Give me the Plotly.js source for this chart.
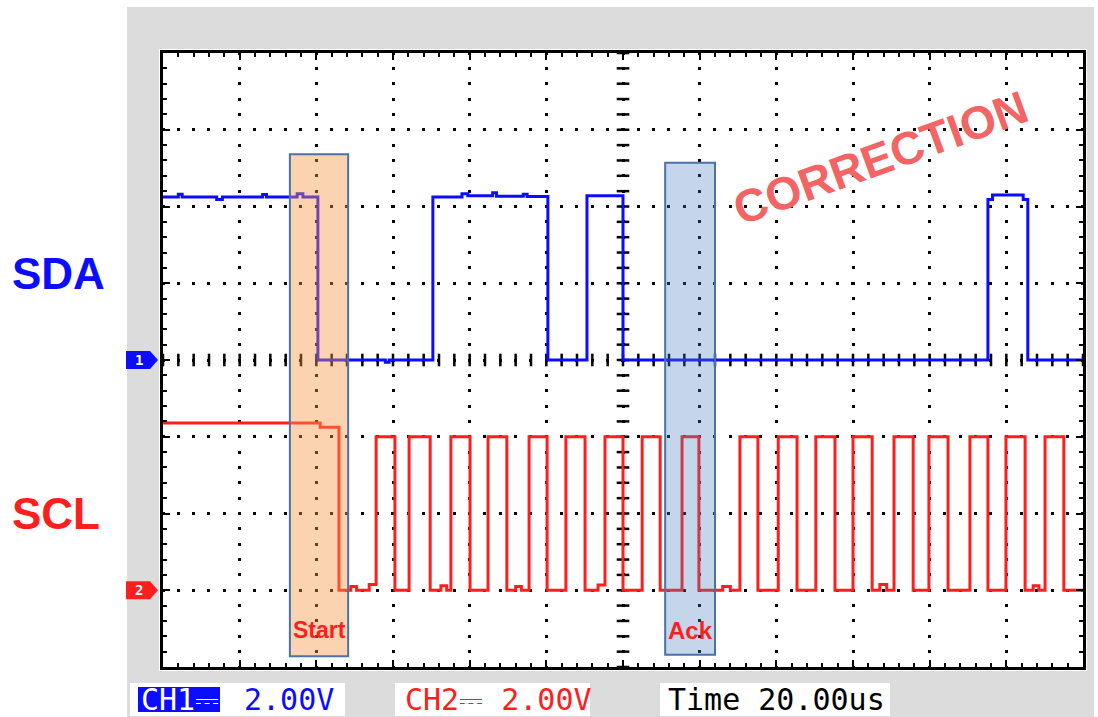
<!DOCTYPE html>
<html><head><meta charset="utf-8">
<script src="https://cdn.plot.ly/plotly-3.0.1.min.js"></script>
<style>html,body{margin:0;padding:0;background:#fff}#chart{width:1098px;height:717px}</style>
</head><body><div id="chart"></div>
<script>
// ---- data (time in microseconds, level in volts) ----
const sdaTime = [0, 4, 5, 14, 15.5, 26, 27, 35, 36.5, 40.4, 58, 59, 70.4, 78, 79.5, 86, 87, 94, 95, 100.4, 110.6, 120.0, 215.2, 216.4, 224.4, 225.6, 240];
const sdaVolt = [4.25, 4.32, 4.25, 4.18, 4.25, 4.31, 4.25, 4.33, 4.25, 0, -0.06, 0, 4.25, 4.33, 4.28, 4.36, 4.27, 4.32, 4.26, 0, 4.28, 0, 4.18, 4.3, 4.18, 0, 0];

const sclTime = [0, 41.0, 45.9, 49.0, 50.5, 53.8, 55.6, 60.5, 64.2, 69.7, 72.5, 74.0, 75.1, 80.1,
  84.8, 89.7, 92.0, 93.5, 95.5, 100.2, 105.1, 110.1, 113.5, 115.3, 120.0, 125.0, 129.7,
  135.4, 139.8, 146.0, 148.0, 150.5, 155.2, 160.5, 165.4, 170.3, 175.3, 180.0, 185.0,
  187.0, 188.8, 190.7, 195.7, 199.8, 204.8, 210.5, 215.2, 219.9, 224.9, 227.0, 228.5,
  230.1, 235.0, 240];
const sclVolt = [4.36, 4.25, 0, 0.1, 0, 0.15, 4, 0, 4, 0, 0.12, 0, 4, 0,
  4, 0, 0.1, 0, 4, 0, 4, 0, 0.14, 4, 0, 4, 0,
  4, 0, 0.1, 0, 4, 0, 4, 0, 4, 0, 4, 0,
  0.15, 0, 4, 0, 4, 0, 4, 0, 4, 0, 0.12, 0,
  4, 0, 0];

const channelLabels = ['SDA', 'SCL'];
const windowLabels = ['Start', 'Ack'];
const windowStart = [33.1, 131.0];
const windowEnd = [48.3, 144.0];
const statusTexts = ['CH1\u2393', '2.00V', 'CH2\u2393 2.00V', 'Time 20.00us'];
const stampText = 'CORRECTION';

// ---- scope settings ----
const voltsPerDiv = 2.0, timePerDiv = 20.0, hDivs = 12, vDivs = 8;
const chPos = [4, 1]; // ground level of each channel, in divisions
const toDiv = (v, ch) => chPos[ch] + v / voltsPerDiv;

const W = 1098, H = 717, L = 163, R = 15, T = 53, B = 50;
const pw = W - L - R, ph = H - T - B;
const px = x => (x - L) / pw;            // page pixel -> paper x
const py = y => (H - B - y) / ph;        // page pixel -> paper y

const blue = '#0c0cff', red = '#ff1e1e';

const traces = [
  {x: sdaTime, y: sdaVolt.map(v => toDiv(v, 0)), mode: 'lines', line: {shape: 'hv', color: blue, width: 3}, hoverinfo: 'skip'},
  {x: sclTime, y: sclVolt.map(v => toDiv(v, 1)), mode: 'lines', line: {shape: 'hv', color: red, width: 3}, hoverinfo: 'skip'}
];

// centre cross graticule ticks
const cy = [], cx = [];
for (let i = 0; i <= vDivs * 5; i++) cy.push(i / 5);
for (let i = 0; i <= hDivs * 5; i++) cx.push(i * timePerDiv / 5);
traces.unshift({x: cy.map(() => hDivs * timePerDiv / 2), y: cy, mode: 'markers', marker: {symbol: 'line-ew', size: 9, line: {width: 2.5, color: '#000'}}, hoverinfo: 'skip'});
traces.unshift({x: cx, y: cx.map(() => vDivs / 2), mode: 'markers', marker: {symbol: 'line-ns', size: 9, line: {width: 2.5, color: '#000'}}, hoverinfo: 'skip'});

const shapes = [
  {type: 'rect', xref: 'paper', yref: 'paper', x0: px(127), x1: px(1094), y0: py(717), y1: py(7), fillcolor: '#dcdcdc', line: {width: 0}, layer: 'below'},
  {type: 'rect', xref: 'paper', yref: 'paper', x0: px(159), x1: px(1087), y0: py(671), y1: py(49), fillcolor: '#ffffff', line: {width: 0}, layer: 'below'},
  {type: 'rect', xref: 'paper', yref: 'paper', x0: px(130), x1: px(345), y0: py(716), y1: py(683), fillcolor: '#ffffff', line: {width: 0}, layer: 'below'},
  {type: 'rect', xref: 'paper', yref: 'paper', x0: px(395), x1: px(590), y0: py(716), y1: py(683), fillcolor: '#ffffff', line: {width: 0}, layer: 'below'},
  {type: 'rect', xref: 'paper', yref: 'paper', x0: px(660), x1: px(890), y0: py(716), y1: py(683), fillcolor: '#ffffff', line: {width: 0}, layer: 'below'},
  {type: 'rect', xref: 'paper', yref: 'paper', x0: px(138), x1: px(220), y0: py(712), y1: py(687), fillcolor: blue, line: {width: 0}, layer: 'below'},
  // start / ack windows
  {type: 'rect', xref: 'x', yref: 'y', x0: windowStart[0], x1: windowEnd[0], y0: 0.14, y1: 6.68, fillcolor: 'rgba(247,150,70,0.42)', line: {color: '#4a72a8', width: 2}, layer: 'above'},
  {type: 'rect', xref: 'x', yref: 'y', x0: windowStart[1], x1: windowEnd[1], y0: 0.16, y1: 6.57, fillcolor: 'rgba(79,129,189,0.32)', line: {color: '#4a72a8', width: 2}, layer: 'above'},
  // channel markers
  {type: 'path', xref: 'paper', xsizemode: 'pixel', xanchor: 0, yref: 'y', ysizemode: 'pixel', yanchor: chPos[0],
   path: 'M-37,-9 L-13,-9 L-5,0 L-13,9 L-37,9 Z', fillcolor: blue, line: {width: 0}},
  {type: 'path', xref: 'paper', xsizemode: 'pixel', xanchor: 0, yref: 'y', ysizemode: 'pixel', yanchor: chPos[1],
   path: 'M-37,-9 L-13,-9 L-5,0 L-13,9 L-37,9 Z', fillcolor: red, line: {width: 0}}
];

const mono = 'DejaVu Sans Mono, monospace';
const sans = 'Liberation Sans, Arial, sans-serif';
const annotations = [
  {xref: 'paper', yref: 'paper', x: px(10), y: py(273), xanchor: 'left', yanchor: 'middle', showarrow: false, text: '<b>' + channelLabels[0] + '</b>', font: {family: sans, size: 44, color: blue}},
  {xref: 'paper', yref: 'paper', x: px(10), y: py(513), xanchor: 'left', yanchor: 'middle', showarrow: false, text: '<b>' + channelLabels[1] + '</b>', font: {family: sans, size: 44, color: red}},
  {xref: 'x', yref: 'y', x: (windowStart[0] + windowEnd[0]) / 2, y: 0.48, xanchor: 'center', yanchor: 'middle', showarrow: false, text: '<b>' + windowLabels[0] + '</b>', font: {family: sans, size: 23, color: red}},
  {xref: 'x', yref: 'y', x: (windowStart[1] + windowEnd[1]) / 2, y: 0.48, xanchor: 'center', yanchor: 'middle', showarrow: false, text: '<b>' + windowLabels[1] + '</b>', font: {family: sans, size: 24, color: red}},
  {xref: 'paper', yref: 'paper', x: px(880), y: py(158), xanchor: 'center', yanchor: 'middle', showarrow: false, textangle: -20, text: '<b>' + stampText + '</b>', font: {family: sans, size: 46, color: '#f36464'}},
  {xref: 'paper', yref: 'y', x: 0, xshift: -24, y: chPos[0], xanchor: 'center', yanchor: 'middle', showarrow: false, text: '<b>1</b>', font: {family: mono, size: 14, color: '#fff'}},
  {xref: 'paper', yref: 'y', x: 0, xshift: -24, y: chPos[1], xanchor: 'center', yanchor: 'middle', showarrow: false, text: '<b>2</b>', font: {family: mono, size: 14, color: '#fff'}},
  {xref: 'paper', yref: 'paper', x: px(139), y: py(699.5), xanchor: 'left', yanchor: 'middle', showarrow: false, text: statusTexts[0], font: {family: mono, size: 30, color: '#fff'}},
  {xref: 'paper', yref: 'paper', x: px(242), y: py(699.5), xanchor: 'left', yanchor: 'middle', showarrow: false, text: statusTexts[1], font: {family: mono, size: 30, color: blue}},
  {xref: 'paper', yref: 'paper', x: px(403), y: py(699.5), xanchor: 'left', yanchor: 'middle', showarrow: false, text: statusTexts[2], font: {family: mono, size: 30, color: red}},
  {xref: 'paper', yref: 'paper', x: px(666), y: py(699.5), xanchor: 'left', yanchor: 'middle', showarrow: false, text: statusTexts[3], font: {family: mono, size: 30, color: '#000'}}
];

const axisCommon = {
  showticklabels: false, zeroline: false, showline: true, linecolor: '#000', linewidth: 3, mirror: 'allticks',
  ticks: 'inside', ticklen: 7, tickwidth: 2, tickcolor: '#000',
  minor: {ticks: 'inside', ticklen: 4, tickwidth: 2, tickcolor: '#000', showgrid: false},
  showgrid: true, gridcolor: '#000', gridwidth: 3, fixedrange: true
};

const layout = {
  width: W, height: H, margin: {l: L, r: R, t: T, b: B},
  paper_bgcolor: '#ffffff', plot_bgcolor: 'rgba(0,0,0,0)', showlegend: false,
  xaxis: Object.assign({}, axisCommon, {range: [0, hDivs * timePerDiv], tick0: 0, dtick: timePerDiv,
    minor: Object.assign({}, axisCommon.minor, {dtick: timePerDiv / 5}), griddash: '1.5px,12.35px,1.5px,0px'}),
  yaxis: Object.assign({}, axisCommon, {range: [0, vDivs], tick0: 0, dtick: 1,
    minor: Object.assign({}, axisCommon.minor, {dtick: 0.2}), griddash: '1.5px,12.33px,1.5px,0px'}),
  shapes: shapes, annotations: annotations
};

Plotly.newPlot('chart', traces, layout, {staticPlot: true, displayModeBar: false});
</script></body></html>
